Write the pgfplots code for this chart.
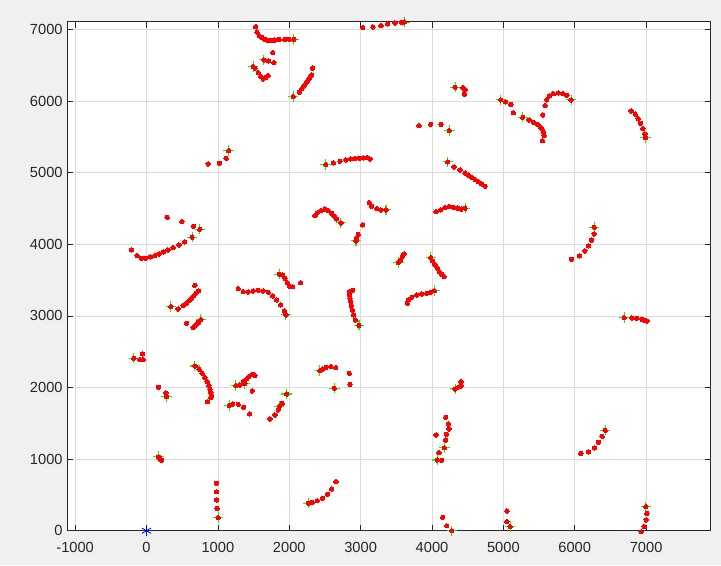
\documentclass[border=0pt]{standalone}
\usepackage{pgfplots}
\pgfplotsset{compat=1.18}
\usepackage{fontspec}
\setmainfont{Liberation Sans}
\definecolor{figbg}{RGB}{240,240,240}
\definecolor{axc}{RGB}{38,38,38}
\definecolor{gridc}{RGB}{220,220,220}
\definecolor{mgreen}{RGB}{0,255,0}
\definecolor{mred}{RGB}{255,0,0}
\definecolor{mblue}{RGB}{0,0,255}
\begin{document}
\begin{tikzpicture}
\fill[figbg] (0,0) rectangle (540.75pt,423.75pt);
\begin{axis}[
  at={(50.475pt,25.725pt)}, anchor=south west, scale only axis,
  width=482.55pt, height=381.75pt,
  xmin=-1110, xmax=7905, ymin=0, ymax=7110,
  xtick={-1000,0,1000,2000,3000,4000,5000,6000,7000},
  ytick={0,1000,2000,3000,4000,5000,6000,7000},
  grid=major, major grid style={gridc, line width=0.5pt},
  axis line style={axc, line width=0.6pt},
  tick style={axc, line width=0.5pt}, tick align=inside, major tick length=4.5pt,
  ticklabel style={font=\fontsize{11}{13}\selectfont, text=axc},
  xticklabel style={yshift=-5pt},
  /pgf/number format/assume math mode=true,
  /pgf/number format/1000 sep={},
  scaled ticks=false,
  clip=false,
  axis background/.style={fill=white},
]
\addplot[only marks, mark=+, mark size=3.9pt, color=mgreen, line width=0.8pt] coordinates {
(2065,6864)(1645,6577)(1495,6483)(1150,5310)(2056,6064)(3612,7105)(4323,6195)(4963,6018)(5272,5776)(5949,6018)
(6991,5491)(4243,5589)(2510,5114)(4220,5152)(639,4100)(747,4211)(341,3130)(761,2948)(-178,2409)(1953,3014)
(1860,3582)(2724,4299)(3355,4481)(2935,4048)(4463,4505)(3528,3745)(3982,3814)(4033,3353)(2977,2870)(6272,4239)
(6693,2976)(677,2301)(280,1872)(1252,2026)(1378,2059)(1159,1747)(1859,1733)(1963,1910)(168,1034)(1004,182)
(2430,2236)(2631,1990)(2266,383)(4173,1160)(4075,988)(4323,1980)(4276,0)(5094,56)(6426,1403)(6997,335)
};
\addplot[only marks, color=mred, mark=*, mark size=1.65pt, mark options={draw=mred, fill=mred, line width=0pt}] coordinates {
(1528,7042)(1547,6964)(1579,6916)(1617,6889)(1659,6861)(1705,6847)(1753,6847)(1799,6853)(1860,6861)(1939,6864)(2000,6864)(2065,6864)
(1767,6679)(1645,6577)(1711,6563)(1785,6539)(1495,6483)(1519,6461)(1565,6399)(1603,6343)(1635,6311)(1673,6330)(1705,6357)
(864,5124)(1023,5133)(1116,5203)(1150,5310)
(2056,6064)(2140,6125)(2173,6172)(2206,6214)(2234,6251)(2262,6288)(2290,6330)(2313,6368)(2327,6461)
(3028,7028)(3173,7034)(3285,7056)(3379,7080)(3481,7094)(3575,7103)(3612,7105)
(4323,6195)(4431,6190)(4463,6158)(4454,6098)
(4963,6018)(5031,5990)(5106,5953)(5141,5840)(5272,5776)(5360,5738)(5421,5706)(5477,5678)(5514,5645)(5543,5608)(5561,5567)(5571,5519)(5547,5449)
(5552,5808)(5585,5938)(5608,6018)(5645,6074)(5701,6106)(5771,6116)(5833,6106)(5889,6083)(5949,6018)
(6790,5864)(6847,5818)(6889,5757)(6921,5692)(6955,5617)(6983,5543)(6991,5491)
(3818,5659)(3982,5678)(4126,5678)(4243,5589)
(2510,5114)(2617,5138)(2710,5161)(2794,5180)(2860,5194)(2921,5198)(2981,5203)(3037,5208)(3093,5212)(3131,5194)
(4220,5152)(4309,5082)(4393,5040)(4463,4994)(4510,4966)(4557,4932)(4604,4904)(4650,4876)(4697,4844)(4744,4812)
(-210,3922)(-132,3842)(-70,3806)(-10,3806)(56,3824)(116,3842)(177,3866)(238,3894)(299,3922)(373,3954)(453,3992)(533,4034)(639,4100)(659,4253)(747,4211)(495,4317)(289,4379)
(341,3130)(443,3098)(513,3144)(561,3177)(597,3214)(631,3247)(663,3284)(691,3317)(729,3349)(677,3429)
(561,2898)(761,2948)(729,2912)(691,2874)(654,2836)
(-178,2409)(-94,2390)(-48,2390)(-56,2469)
(1285,3381)(1355,3339)(1425,3335)(1495,3349)(1565,3359)(1635,3349)(1705,3331)(1767,3279)(1823,3223)(1879,3154)(1930,3070)(1953,3014)
(1860,3582)(1907,3573)(1939,3527)(1972,3465)(2000,3419)(2047,3409)(2159,3465)
(2360,4401)(2392,4439)(2440,4471)(2500,4491)(2546,4471)(2594,4435)(2626,4397)(2664,4355)(2724,4299)
(3121,4583)(3155,4533)(3225,4499)(3285,4481)(3355,4481)
(2935,4048)(2944,4094)(2967,4141)(3028,4271)
(4056,4457)(4122,4481)(4183,4513)(4243,4527)(4299,4518)(4361,4505)(4407,4491)(4463,4505)
(3528,3745)(3561,3782)(3584,3829)(3608,3866)
(3982,3814)(4010,3768)(4042,3712)(4075,3666)(4103,3619)(4136,3582)(4173,3549)
(3654,3177)(3668,3223)(3716,3261)(3786,3293)(3856,3307)(3926,3317)(3982,3331)(4033,3353)
(2888,3359)(2841,3339)(2846,3293)(2851,3247)(2860,3200)(2869,3144)(2883,3084)(2902,3014)(2925,2944)(2977,2870)
(6272,4239)(6272,4146)(6234,4058)(6192,3978)(6141,3908)(6066,3838)(5954,3792)
(6693,2976)(6800,2972)(6870,2968)(6941,2954)(6977,2940)(7011,2930)
(677,2301)(738,2255)(780,2199)(817,2138)(850,2082)(874,2026)(888,1976)(902,1929)(911,1886)(902,1858)(855,1802)
(168,2004)(271,1924)(280,1872)
(1252,2026)(1308,2036)(1355,2082)(1378,2059)(1402,2120)(1434,2152)(1472,2180)(1495,2185)(1519,2166)(1481,1952)
(1159,1747)(1206,1770)(1285,1766)(1360,1724)(1444,1631)
(1729,1561)(1799,1617)(1845,1687)(1859,1733)(1901,1780)(1963,1910)
(168,1034)(188,1010)(210,984)
(981,662)(981,545)(981,429)(990,313)(1004,182)
(2430,2236)(2468,2259)(2514,2283)(2580,2292)(2650,2278)(2841,2199)(2851,2046)(2631,1990)
(2266,383)(2322,397)(2392,419)(2468,453)(2538,509)(2594,583)(2654,685)
(4192,1584)(4229,1491)(4239,1421)(4201,1347)(4192,1267)(4173,1160)(4056,1337)(4098,1090)(4075,988)(4136,984)
(4323,1980)(4355,1998)(4383,2012)(4407,2082)(4407,2022)
(4150,187)(4206,70)(4276,0)
(5048,275)(5048,126)(5094,56)
(6085,1081)(6192,1100)(6276,1156)(6332,1235)(6384,1319)(6426,1403)
(6997,335)(7011,243)(7001,150)(6973,56)(6931,-14)
};
\addplot[only marks, mark=asterisk, mark size=4pt, color=mblue, line width=0.6pt] coordinates {(0,0)};
\end{axis}
\pgfresetboundingbox
\path (0,0) rectangle (540.75pt,423.75pt);
\end{tikzpicture}
\end{document}
